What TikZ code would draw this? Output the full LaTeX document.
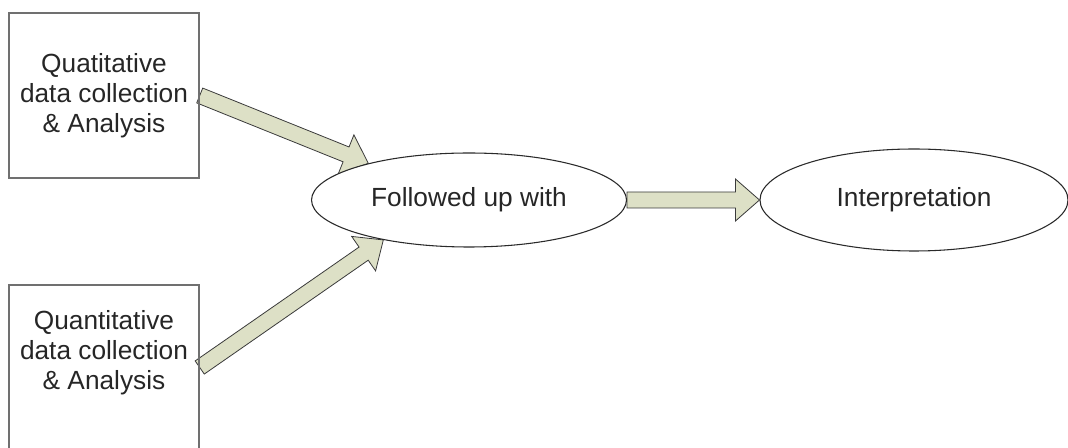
\documentclass[tikz,border=0pt]{standalone}
\usepackage{fontspec}
\setmainfont{Liberation Sans}
\usepackage{tikz}
\usetikzlibrary{positioning,calc,backgrounds,shapes.geometric}
\definecolor{boxgray}{HTML}{707070}
\definecolor{ovalline}{HTML}{2A2A2A}
\definecolor{arrowfill}{HTML}{DDE0C6}
\definecolor{arrowline}{HTML}{3A3A3A}
\definecolor{textdark}{HTML}{262626}

% block arrow between two named points
\newcommand{\blockarrow}[2]{%
  \draw[bigarrow] let \p1=($(#2)-(#1)$), \n1={atan2(\y1,\x1)}, \n2={veclen(\x1,\y1)} in
    ($(#1)+(\n1+90:6pt)$) -- ($(#1)+(\n1:\n2-18pt)+(\n1+90:6pt)$)
    -- ($(#1)+(\n1:\n2-18pt)+(\n1+90:15.75pt)$) -- (#2)
    -- ($(#1)+(\n1:\n2-18pt)+(\n1-90:15.75pt)$)
    -- ($(#1)+(\n1:\n2-18pt)+(\n1-90:6pt)$)
    -- ($(#1)+(\n1-90:6pt)$) -- cycle;}

\begin{document}
\begin{tikzpicture}[
  x=0.75pt, y=0.75pt,
  font=\fontsize{19.7}{22.5}\selectfont,
  srcbox/.style={
    draw=boxgray, line width=1.1pt,
    minimum width=142.5pt, minimum height=123.75pt,
    inner sep=0pt, text=textdark, align=center,
  },
  boxtext/.style={text=textdark, align=center, inner sep=0pt},
  oval/.style={
    draw=ovalline, line width=0.8pt, ellipse,
    fill=white, text=textdark, inner sep=0pt,
  },
  bigarrow/.style={draw=arrowline, line width=0.6pt, fill=arrowfill,
    line join=miter},
]
\useasboundingbox (0,0) rectangle (1068,-448);

% === LEFT: DATA COLLECTION BOXES ===
\node[srcbox] (qlbox) at (104,-95.5) {Quatitative\\data collection\\\& Analysis};
\node[srcbox] (qnbox) at (104,-367.5) {};
\node[boxtext] (qntext) at ($(qnbox.center)+(0,11pt)$) {Quantitative\\data collection\\\& Analysis};

% === MIDDLE AND RIGHT OVALS ===
\node[oval, minimum width=236.25pt, minimum height=70.5pt] (fup) at (469,-200) {Followed up with};
\node[oval, minimum width=231pt, minimum height=76.5pt] (interp) at (914,-200) {Interpretation};

% === BLOCK ARROWS ===
\begin{scope}[on background layer]
  \blockarrow{qlbox.east}{fup.160}
  \blockarrow{qnbox.east}{fup.205}
  \blockarrow{fup.east}{interp.west}
\end{scope}

\end{tikzpicture}
\end{document}
